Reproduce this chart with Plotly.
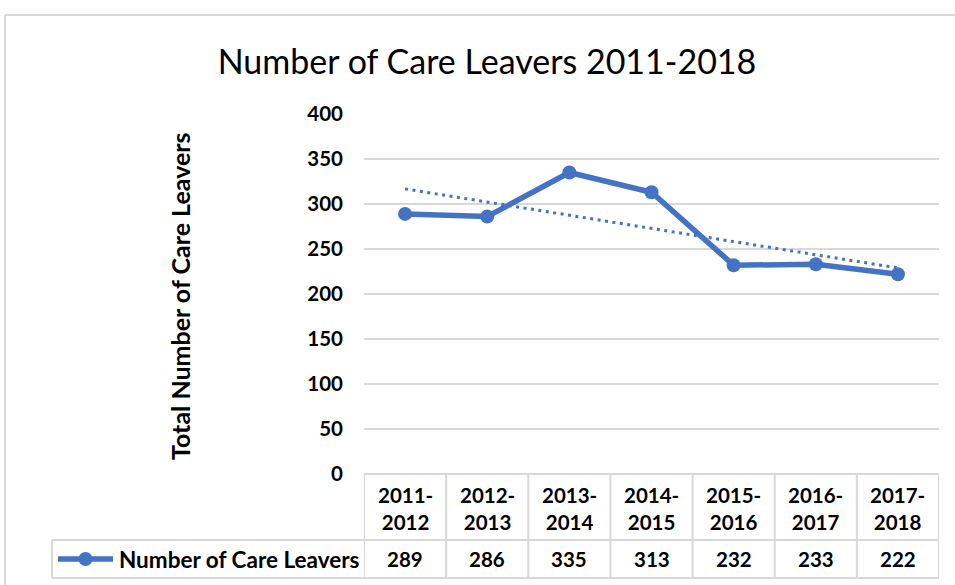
import numpy as np
import plotly.graph_objects as go

# ---- data ----
periods = ["2011-2012", "2012-2013", "2013-2014", "2014-2015",
           "2015-2016", "2016-2017", "2017-2018"]
leavers = [289, 286, 335, 313, 232, 233, 222]
series_name = "Number of Care Leavers"
title_text = "Number of Care Leavers 2011-2018"
y_title = "Total Number of Care Leavers"
y_ticks = [0, 50, 100, 150, 200, 250, 300, 350, 400]

W, H = 955, 585
BLUE = "#4472C4"
GRID = "#d9d9d9"
FONT = "Lato"

def px(xp):
    return xp / W

def py(yp):
    return 1 - yp / H

# linear trendline (as Excel's linear trend)
idx = np.arange(1, len(leavers) + 1)
slope, intercept = np.polyfit(idx, leavers, 1)
trend = slope * idx + intercept

fig = go.Figure()
fig.add_trace(go.Scatter(
    x=periods, y=trend, mode="lines", name="Linear (" + series_name + ")",
    line=dict(color=BLUE, width=3, dash="3px,4.5px"), showlegend=False))
fig.add_trace(go.Scatter(
    x=periods, y=leavers, mode="lines+markers", name=series_name,
    line=dict(color=BLUE, width=5.5), marker=dict(color=BLUE, size=14),
    showlegend=False))

plot_top, plot_bot = 114, 474
tab_left, tab_right = 364, 939
hdr_bot, row_bot = 540, 578
leg_left = 52

shapes = []
# outer chart border (top and left visible)
shapes.append(dict(type="line", xref="paper", yref="paper",
                   x0=px(5), x1=px(956), y0=py(15), y1=py(15),
                   line=dict(color=GRID, width=2)))
shapes.append(dict(type="line", xref="paper", yref="paper",
                   x0=px(5), x1=px(5), y0=py(15), y1=py(586),
                   line=dict(color=GRID, width=2)))
# table horizontal lines
shapes.append(dict(type="line", xref="x", yref="paper",
                   x0=-0.5, x1=len(periods) - 0.5, y0=py(plot_bot), y1=py(plot_bot),
                   line=dict(color=GRID, width=2)))
for yy in (hdr_bot, row_bot):
    shapes.append(dict(type="line", xref="paper", yref="paper",
                       x0=px(leg_left), x1=px(tab_right), y0=py(yy), y1=py(yy),
                       line=dict(color=GRID, width=2)))
# table vertical lines
for i in range(len(periods) + 1):
    shapes.append(dict(type="line", xref="x", yref="paper",
                       x0=i - 0.5, x1=i - 0.5, y0=py(plot_bot), y1=py(row_bot),
                       line=dict(color=GRID, width=2)))
shapes.append(dict(type="line", xref="paper", yref="paper",
                   x0=px(leg_left), x1=px(leg_left), y0=py(hdr_bot), y1=py(row_bot),
                   line=dict(color=GRID, width=2)))
# legend key inside the table
key_y = (hdr_bot + row_bot) / 2
shapes.append(dict(type="line", xref="paper", yref="paper",
                   x0=px(58), x1=px(113), y0=py(key_y), y1=py(key_y),
                   line=dict(color=BLUE, width=5.5)))
shapes.append(dict(type="circle", xref="paper", yref="paper",
                   x0=px(78.5), x1=px(92.5), y0=py(key_y + 7), y1=py(key_y - 7),
                   fillcolor=BLUE, line=dict(color=BLUE, width=0)))

annotations = []
tfont = dict(family=FONT, size=20.5, color="#000000", weight="bold")
for p, v in zip(periods, leavers):
    a, b = p.split("-")
    annotations.append(dict(x=p, xref="x", y=py((plot_bot + hdr_bot) / 2 + 1), yref="paper",
                            text=a + "-<br>" + b, showarrow=False, font=tfont,
                            xanchor="center", yanchor="middle"))
    annotations.append(dict(x=p, xref="x", y=py(key_y), yref="paper",
                            text=str(v), showarrow=False, font=tfont,
                            xanchor="center", yanchor="middle"))
annotations.append(dict(x=px(117), xref="paper", y=py(key_y), yref="paper",
                        text=series_name, showarrow=False,
                        font=dict(family=FONT, size=22.5, color="#000000", weight="bold"),
                        xanchor="left", yanchor="middle"))
annotations.append(dict(x=px(180), xref="paper", y=py((plot_top + plot_bot) / 2 + 2), yref="paper",
                        text=y_title, showarrow=False, textangle=-90,
                        font=dict(family=FONT, size=25, color="#000000", weight="bold"),
                        xanchor="center", yanchor="middle"))

fig.update_layout(
    width=W, height=H,
    margin=dict(l=0, r=0, t=0, b=0, autoexpand=False),
    paper_bgcolor="white", plot_bgcolor="white",
    title=dict(text=title_text, x=px(487), y=py(62), xanchor="center", yanchor="middle",
               font=dict(family=FONT, size=34, color="#000000")),
    xaxis=dict(type="category", categoryorder="array", categoryarray=periods,
               domain=[px(tab_left), px(tab_right)], range=[-0.5, len(periods) - 0.5],
               showticklabels=False, showgrid=False, zeroline=False, showline=False,
               ticks="", automargin=False),
    yaxis=dict(domain=[py(plot_bot), py(plot_top)], range=[0, 400],
               tickvals=y_ticks, showgrid=True, gridcolor=GRID, gridwidth=2,
               zeroline=False, showline=False, ticks="", automargin=False,
               ticklabelstandoff=20,
               tickfont=dict(family=FONT, size=20.5, color="#000000", weight="bold")),
    shapes=shapes,
    annotations=annotations,
    showlegend=False,
)

fig.write_html("out.html")
